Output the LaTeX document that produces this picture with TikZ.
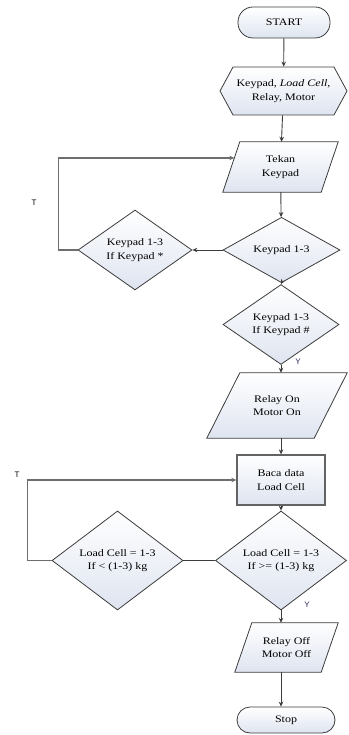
\documentclass[tikz,border=0pt]{standalone}
\usepackage{fontspec}
\setmainfont{Liberation Serif}[FakeStretch=1.2]
\newfontfamily\lblfont{Liberation Sans}
\usetikzlibrary{shapes.geometric,shapes.symbols,arrows.meta,calc,backgrounds}
\definecolor{edge}{RGB}{60,60,60}
\definecolor{fillbot}{RGB}{222,228,240}
\definecolor{loopc}{RGB}{110,110,110}
\definecolor{ycol}{RGB}{40,40,90}
\tikzset{
  boxfill/.style={draw=edge, line width=0.8pt, top color=white, bottom color=fillbot},
  box/.style={boxfill, align=center, inner sep=0pt, font=\fontsize{10}{13.5}\selectfont},
  term/.style={box, rectangle, rounded corners=#1},
  hexa/.style={box, signal, signal to=west and east, signal pointer angle=123},
  paratext/.style={rectangle, align=center, inner sep=0pt, font=\fontsize{10}{13.5}\selectfont},
  dia/.style={box, diamond},
  procbox/.style={box, rectangle, draw=edge!80!white, line width=1.3pt},
  arr/.style={draw=edge, line width=0.9pt, -{Stealth[length=5pt,width=4.5pt]}},
  ln/.style={draw=edge, line width=0.9pt},
  loopl/.style={draw=loopc, line width=1.3pt},
  lbl/.style={font=\lblfont\fontsize{8}{9}\selectfont, inner sep=0pt}
}
\newcommand\paraoutline[2]{%
  \begin{pgfonlayer}{background}
  \path[boxfill] ($(#1.north west)+(#2,0)$) -- (#1.north east) -- ($(#1.south east)-(#2,0)$) -- (#1.south west) -- cycle;
  \end{pgfonlayer}}
\begin{document}
\begin{tikzpicture}[x=1pt,y=-1pt]
\useasboundingbox (0,0) rectangle (348,735);
\node[term=15pt, minimum width=92pt, minimum height=31pt] (start) at (284,22.5) {START};
\node[hexa, minimum width=127pt, minimum height=48pt] (init) at (283.5,91) {Keypad, \textit{Load Cell},\\Relay, Motor};
\node[paratext, minimum width=115pt, minimum height=50pt] (tekan) at (280.5,167) {Tekan\\Keypad};
\paraoutline{tekan}{17}
\node[dia, minimum width=117pt, minimum height=63pt] (d1) at (281.5,250) {Keypad 1-3};
\node[dia, minimum width=114pt, minimum height=64pt] (d2) at (135,250) {Keypad 1-3\\If Keypad *};
\node[dia, minimum width=116pt, minimum height=65pt] (d3) at (281,324.5) {Keypad 1-3\\If Keypad \#};
\node[paratext, minimum width=140pt, minimum height=65pt] (relayon) at (277,405.5) {Relay On\\Motor On};
\paraoutline{relayon}{33}
\node[procbox, minimum width=88pt, minimum height=50pt] (baca) at (281,480) {Baca data\\Load Cell};
\node[dia, minimum width=131pt, minimum height=75pt] (d4) at (281,560.5) {Load Cell = 1-3\\If >= (1-3) kg};
\node[dia, minimum width=131pt, minimum height=75pt] (d5) at (117.5,560.5) {Load Cell = 1-3\\If < (1-3) kg};
\node[paratext, minimum width=103pt, minimum height=49pt] (relayoff) at (286.5,647.5) {Relay Off\\Motor Off};
\paraoutline{relayoff}{17}
\node[term=13pt, minimum width=98pt, minimum height=26pt] (stop) at (286,720) {Stop};

\node[lbl] (t1) at (34,203) {T};
\node[lbl] (t2) at (17,475) {T};
\node[lbl, text=ycol] (y1) at (298,362) {Y};
\node[lbl, text=ycol] (y2) at (307,605) {Y};

\draw[arr] (start) -- (init);
\draw[arr] (init) -- (tekan);
\draw[arr] (tekan) -- (d1);
\draw[arr] (d1.west) -- (d2.east);
\draw[loopl, -{Stealth[length=5pt,width=4.5pt]}] (d2.west) -- ++(-19,0) |- ($($(tekan.north west)+(17,0)$)!0.32!(tekan.south west)$);
\draw[arr] (d1.south) -- (d3.north);
\draw[arr] (d3.south) -- (d3.south |- relayon.north);
\draw[arr] (relayon.south -| baca.north) -- (baca.north);
\draw[arr] (baca) -- (d4);
\draw[ln] (d4.west) -- (d5.east);
\draw[loopl, -{Stealth[length=5pt,width=4.5pt]}] (d5.west) -- ++(-24,0) |- (baca.west);
\draw[arr] (d4.south) -- (d4.south |- relayoff.north);
\draw[arr] (d4.south |- relayoff.south) -- (d4.south |- stop.north);
\end{tikzpicture}
\end{document}
